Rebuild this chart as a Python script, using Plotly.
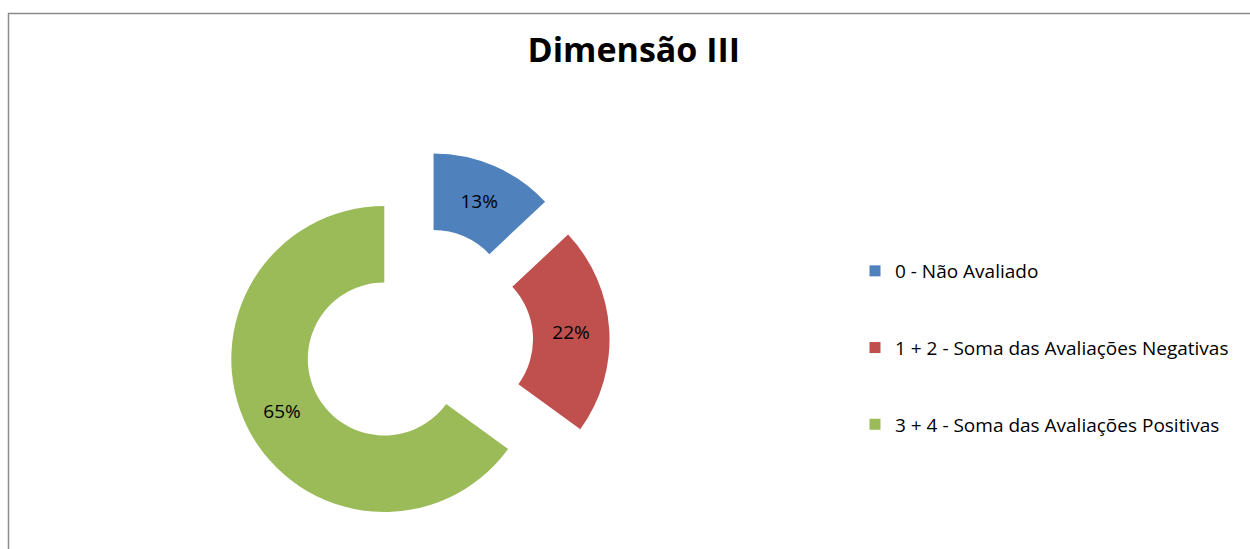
import plotly.graph_objects as go

labels = ["0 - Não Avaliado", "1 + 2 - Soma das Avaliações Negativas", "3 + 4 - Soma das Avaliações Positivas"]
values = [13, 22, 65]
colors = ["#4F81BD", "#C0504D", "#9BBB59"]
title_text = "Dimensão III"

FONT = "Open Sans"

fig = go.Figure()
fig.add_trace(go.Pie(
    labels=labels, values=values, sort=False, direction="clockwise", rotation=0,
    hole=0.5, pull=[0.25, 0.25, 0.25],
    marker=dict(colors=colors, line=dict(width=0)),
    textinfo="percent", textposition="inside", insidetextorientation="horizontal",
    textfont=dict(family=FONT, size=19, color="black"),
    domain=dict(x=[0.1817, 0.4877], y=[0.0294, 0.7261]),
    showlegend=False,
))

for i, (lab, col) in enumerate(zip(labels, colors)):
    fig.add_trace(go.Scatter(
        x=[None], y=[None], mode="markers", name=lab, legendgroup=f"g{i}",
        marker=dict(symbol="square", size=11, color=col),
    ))

fig.update_xaxes(visible=False)
fig.update_yaxes(visible=False)

fig.update_layout(
    width=1250, height=549, margin=dict(l=0, r=0, t=0, b=0),
    paper_bgcolor="white", plot_bgcolor="white",
    title=dict(text=f"<b>{title_text}</b>", x=0.507, xanchor="center", y=1 - 50 / 549, yanchor="middle",
               font=dict(family=FONT, size=34, color="black")),
    legend=dict(x=855 / 1250, xanchor="left", y=1 - 252 / 549, yanchor="top",
                font=dict(family=FONT, size=19, color="black"), tracegroupgap=49,
                bgcolor="rgba(0,0,0,0)"),
    shapes=[dict(type="rect", xref="paper", yref="paper", x0=8.5 / 1250, x1=1.02, y0=-0.02, y1=1 - 13.5 / 549,
                 line=dict(color="#8c8c8c", width=1.5), fillcolor="rgba(0,0,0,0)", layer="below")],
)

fig.write_html("out.html")
